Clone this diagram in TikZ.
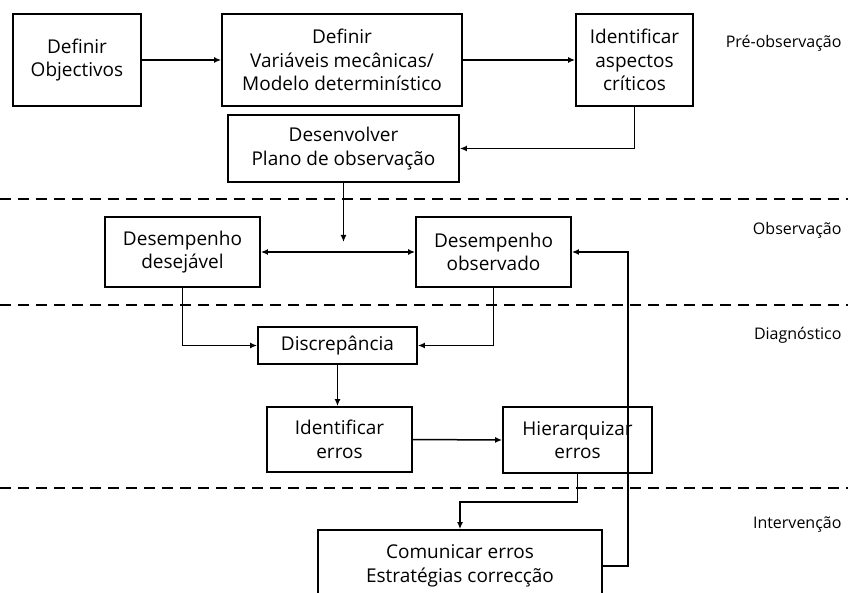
\documentclass[tikz,border=0pt]{standalone}
\usepackage{fontspec}
\setmainfont{Open Sans}
\usetikzlibrary{arrows.meta}

\begin{document}
\begin{tikzpicture}[x=1pt,y=-1pt,
  font=\fontsize{19}{23.5}\selectfont,>={Latex[length=7pt,width=6pt]},
  box/.style={draw,line width=1.8pt,align=center,inner sep=0pt},
  link/.style={line width=1.5pt,->},
  phase/.style={anchor=east,font=\fontsize{16}{18}\selectfont},
  sep/.style={line width=1.6pt,dash pattern=on 11pt off 7pt}]
  \useasboundingbox (0,0) rectangle (848,593);

  \draw[sep] (0,199)--(848,199);
  \draw[sep] (0,305)--(848,305);
  \draw[sep] (0,488)--(848,488);

  \node[phase] (pre) at (845,43) {Pré-observação};
  \node[phase] (obs) at (845,230) {Observação};
  \node[phase] (diag) at (845,335) {Diagnóstico};
  \node[phase] (interv) at (845,525) {Intervenção};

  \node[box,minimum width=128pt,minimum height=92pt] (obj) at (77,60)
    {Definir\\Objectivos};
  \node[box,minimum width=240pt,minimum height=92pt] (vars) at (342,60)
    {Definir\\Variáveis mecânicas/\\Modelo determinístico};
  \node[box,minimum width=117pt,minimum height=92pt] (crit) at (634.5,60)
    {Identificar\\aspectos\\críticos};
  \node[box,minimum width=231pt,minimum height=67pt] (plano) at (343.5,148.5)
    {Desenvolver\\Plano de observação};

  \node[box,minimum width=155pt,minimum height=70pt] (desej) at (182.5,252)
    {Desempenho\\desejável};
  \node[box,minimum width=155pt,minimum height=70pt] (observ) at (493.5,252)
    {Desempenho\\observado};
  \coordinate (join) at (343.5,242);

  \node[box,minimum width=159pt,minimum height=37pt] (discr) at (337.5,345.5)
    {Discrepância};
  \node[box,minimum width=145pt,minimum height=65pt] (ident) at (339.5,439.5)
    {Identificar\\erros};
  \node[box,minimum width=149pt,minimum height=66pt] (hier) at (577.5,440)
    {Hierarquizar\\erros};

  \node[box,minimum width=284pt,minimum height=72pt] (comun) at (460,566)
    {Comunicar erros\\Estratégias correcção};

  \draw[link] (obj.east)--(vars.west);
  \draw[link] (vars.east)--(crit.west);
  \draw[link] (crit.south)|-(plano.east);
  \draw[link] (plano.south)--(join);
  \draw[link,<->] (desej.east)--(observ.west);
  \draw[link] (desej.south)|-(discr.west);
  \draw[link] (observ.south)|-(discr.east);
  \draw[link] (discr.south)--(discr.south|-ident.north);
  \draw[link] (ident.east)--(hier.west);
  \draw[link] (hier.south)--++(0,28)-|(comun.north);
  \draw[link] (comun.east)--++(25,0)|-(observ.east);
\end{tikzpicture}
\end{document}
